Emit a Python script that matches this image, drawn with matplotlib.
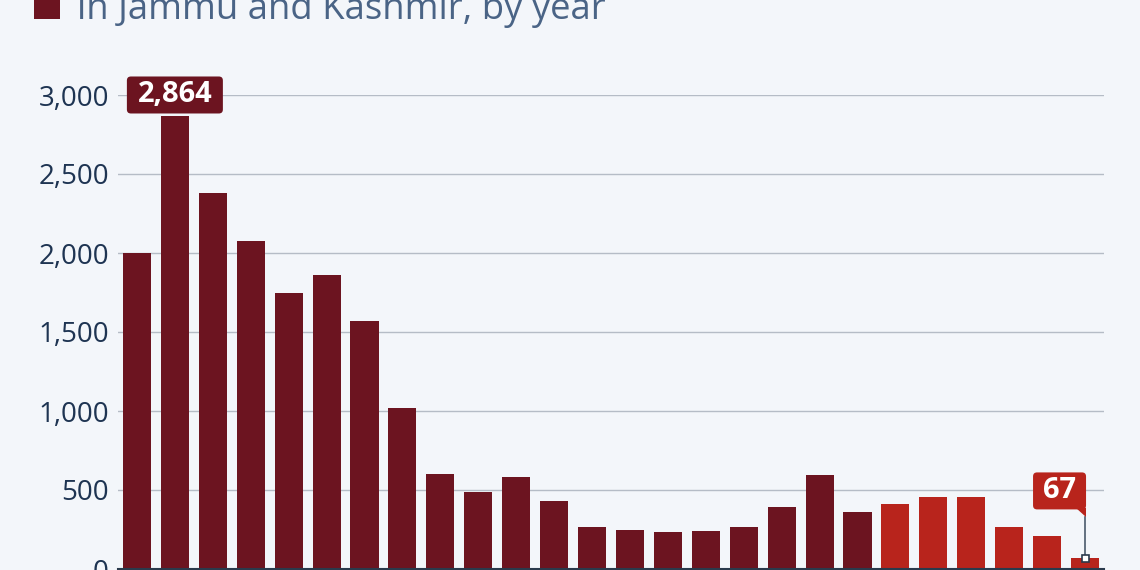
import matplotlib
matplotlib.use("Agg")
import matplotlib.pyplot as plt
from matplotlib.patches import FancyBboxPatch, Polygon, Rectangle
from matplotlib.transforms import IdentityTransform
from matplotlib.ticker import FuncFormatter

# ---- data ----
years = list(range(2000, 2026))
values = [2000, 2864, 2380, 2076, 1747, 1861, 1570, 1019, 601, 487,
          582, 430, 266, 249, 234, 240, 266, 392, 595, 361,
          411, 456, 456, 266, 209, 67]
period_split = 20  # bars from this index on are in the lighter red
yticks = [0, 500, 1000, 1500, 2000, 2500, 3000]
legend_label = "in Jammu and Kashmir, by year"

DARK = "#6c1420"
RED = "#b8241c"
BG = "#f3f6fa"
TICK_COLOR = "#1e3452"
LEGEND_COLOR = "#4a6486"
GRID = "#b5bcc6"
FONT = "Open Sans"

W, H, DPI = 11.4, 5.7, 100
fig = plt.figure(figsize=(W, H), dpi=DPI, facecolor=BG)
ax = fig.add_axes([118 / 1140, 1 / 570, (1104 - 118) / 1140, (569 - 95) / 570])
ax.set_facecolor(BG)

x = list(range(len(values)))
colors = [DARK if i < period_split else RED for i in x]
ax.bar(x, values, width=0.74, color=colors, zorder=3)

ax.set_xlim(-0.5, len(values) - 0.5)
ax.set_ylim(0, 3000)
ax.set_yticks(yticks)
ax.yaxis.set_major_formatter(FuncFormatter(lambda v, p: f"{int(v):,}"))
ax.tick_params(axis="y", length=0, pad=6.5, labelsize=20, labelcolor=TICK_COLOR)
for lab in ax.get_yticklabels():
    lab.set_fontfamily(FONT)
ax.set_xticks([])
ax.grid(axis="y", color=GRID, linewidth=1, zorder=0)
for s in ["top", "right", "left"]:
    ax.spines[s].set_visible(False)
ax.spines["bottom"].set_color("#2a3a4c")
ax.spines["bottom"].set_linewidth(1.5)
ax.spines["bottom"].set_zorder(5)

ident = IdentityTransform()

# ---- max label ----
imax = values.index(max(values))
px, py = ax.transData.transform((imax, values[imax]))
bw, bh = 96, 37
box = FancyBboxPatch((px - bw / 2, py + 3), bw, bh,
                     boxstyle="round,pad=0,rounding_size=4",
                     facecolor=DARK, edgecolor="none", transform=ident,
                     zorder=6, clip_on=False)
fig.patches.append(box)
fig.text((px) / 1140, (py + 3 + bh / 2) / 570, f"{values[imax]:,}",
         color="white", fontsize=21, fontweight="bold", family=FONT,
         ha="center", va="center", zorder=7)

# ---- last label (callout) ----
il = len(values) - 1
lx, ly = ax.transData.transform((il, values[il]))
tail_y = ly + 41
bx0, bx1 = lx - 52, lx + 1
by0, by1 = ly + 49, ly + 86
box2 = FancyBboxPatch((bx0, by0), bx1 - bx0, by1 - by0,
                      boxstyle="round,pad=0,rounding_size=4",
                      facecolor=RED, edgecolor="none", transform=ident,
                      zorder=6, clip_on=False)
fig.patches.append(box2)
tri = Polygon([(bx1 - 10, by0 + 1), (bx1, by0 + 1), (bx1, tail_y)],
              closed=True, facecolor=RED, edgecolor="none",
              transform=ident, zorder=6)
fig.patches.append(tri)
fig.lines.append(plt.Line2D([lx, lx], [ly, tail_y], color="#4a5a6c",
                            linewidth=1.2, transform=ident, zorder=6))
fig.patches.append(Rectangle((lx - 3.5, ly - 3.5), 7, 7, facecolor="white",
                             edgecolor="#2a3a4c", linewidth=1.2,
                             transform=ident, zorder=7))
fig.text((bx0 + bx1) / 2 / 1140, (by0 + by1) / 2 / 570, f"{values[il]:,}",
         color="white", fontsize=21, fontweight="bold", family=FONT,
         ha="center", va="center", zorder=8)

# ---- legend (cropped at top) ----
fig.patches.append(Rectangle((34, 570 - 19), 26, 26, facecolor=DARK,
                             edgecolor="none", transform=ident, zorder=5))
fig.text(77 / 1140, (570 - 19) / 570, legend_label, color=LEGEND_COLOR,
         fontsize=26.3, family=FONT, ha="left", va="baseline")

fig.savefig("out.png", dpi=DPI, facecolor=BG)
